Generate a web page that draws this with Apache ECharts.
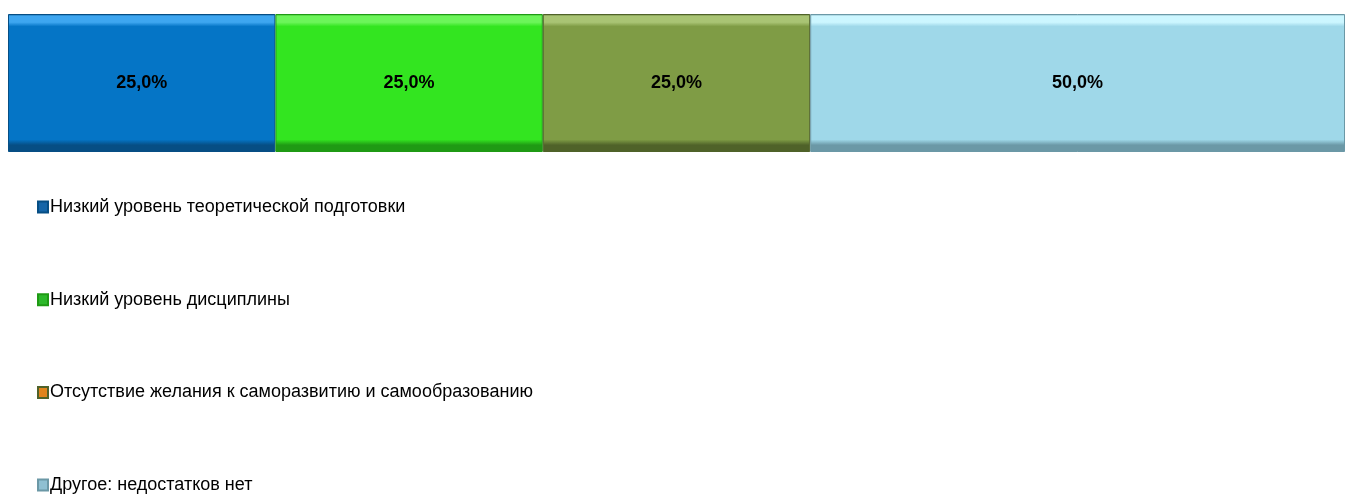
<!DOCTYPE html>
<html>
<head>
<meta charset="utf-8">
<script src="https://cdn.jsdelivr.net/npm/echarts@6/dist/echarts.min.js"></script>
<style>
  html, body { margin: 0; padding: 0; background: #ffffff; }
  #chart { width: 1348px; height: 496px; }
</style>
</head>
<body>
<div id="chart"></div>
<script>
// series names (legend) and values in percent
var seriesNames = [
  "Низкий уровень теоретической подготовки",
  "Низкий уровень дисциплины",
  "Отсутствие желания к саморазвитию и самообразованию",
  "Другое: недостатков нет"
];
var seriesValues = [25, 25, 25, 50];
var category = ["Недостатки"];

// bar fill colours and the legend marker colours (the 3rd marker is orange in the original)
var barColors = ["#0575c6", "#33e520", "#7f9c45", "#9fd8e9"];
var edgeLight = ["#3ea6f0", "#6cf55a", "#a9c474", "#ccf6ff"];
var edgeDark = ["#064e84", "#1f9a14", "#4f6229", "#6b98a6"];
var legendColors = ["#1565a8", "#2cb82a", "#e0841c", "#8fc0d2"];

var font = "'Liberation Sans', Arial, sans-serif";

function bevel(i) {
  return new echarts.graphic.LinearGradient(0, 0, 0, 1, [
    { offset: 0, color: edgeDark[i] },
    { offset: 0.015, color: edgeLight[i] },
    { offset: 0.06, color: edgeLight[i] },
    { offset: 0.09, color: barColors[i] },
    { offset: 0.91, color: barColors[i] },
    { offset: 0.95, color: edgeDark[i] },
    { offset: 1, color: edgeDark[i] }
  ]);
}

var chart = echarts.init(document.getElementById("chart"));

var series = seriesNames.map(function (name, i) {
  return {
    name: name,
    type: "bar",
    stack: "total",
    barWidth: 138,
    data: [seriesValues[i]],
    itemStyle: {
      color: bevel(i),
      borderColor: edgeDark[i],
      borderWidth: 1
    },
    label: {
      show: true,
      position: "inside",
      color: "#000000",
      fontFamily: font,
      fontWeight: "bold",
      fontSize: 18,
      formatter: function (p) {
        return p.value.toFixed(1).replace(".", ",") + "%";
      }
    }
  };
});

chart.setOption({
  animation: false,
  grid: {
    left: 8,
    right: 3,
    top: 14,
    height: 138
  },
  xAxis: {
    type: "value",
    min: 0,
    max: 125,
    show: false
  },
  yAxis: {
    type: "category",
    data: category,
    show: false
  },
  legend: {
    orient: "vertical",
    left: 37,
    top: 197,
    padding: 0,
    itemGap: 72.7,
    itemWidth: 10,
    itemHeight: 11,
    icon: "rect",
    textStyle: {
      fontFamily: font,
      fontSize: 18,
      lineHeight: 20,
      color: "#000000",
      padding: [0, 0, 0, -3]
    },
    data: seriesNames.map(function (name, i) {
      return { name: name, itemStyle: { color: legendColors[i] } };
    })
  },
  series: series
});

window.addEventListener("resize", function () {
  chart.resize();
});
</script>
</body>
</html>
